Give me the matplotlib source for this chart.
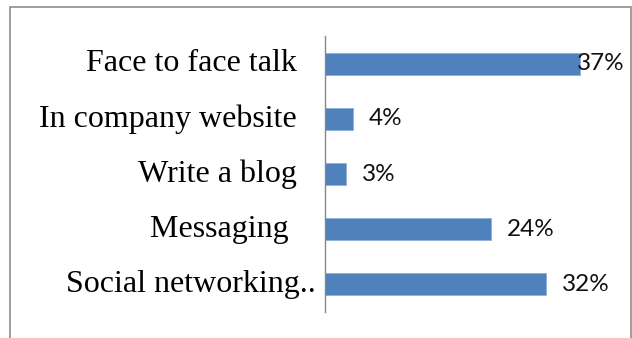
import matplotlib.pyplot as plt
from matplotlib.patches import Rectangle

# data
categories = ["Face to face talk", "In company website", "Write a blog", "Messaging ", "Social networking.."]
values = [37, 4, 3, 24, 32]
value_labels = ["37%", "4%", "3%", "24%", "32%"]

W, H = 632, 338
fig = plt.figure(figsize=(W / 100, H / 100), dpi=100)

# outer chart frame (bottom edge runs off the picture)
fig.patches.append(Rectangle((10 / W, -0.05), 620.5 / W, 1.05 - 7 / H,
                             transform=fig.transFigure, fill=False,
                             edgecolor='#8c8c8c', linewidth=1.2))

ax = fig.add_axes([325 / W, 1 - 312 / H, (W - 325) / W, 276 / H])
ypos = list(range(len(categories)))
ax.barh(ypos, values, height=0.4, color='#4f81bd', edgecolor='#8fb0d8', linewidth=0.6)

xmax = (W - 325) / 6.9
ax.set_xlim(0, xmax)
ax.set_ylim(len(categories) - 0.5, -0.5)

for s in ['top', 'right', 'bottom']:
    ax.spines[s].set_visible(False)
ax.spines['left'].set_color('#868686')
ax.spines['left'].set_linewidth(1.0)
ax.set_xticks([])
ax.set_yticks([])
ax.patch.set_visible(False)

# category labels (serif, right aligned left of the axis)
for i, cat in enumerate(categories):
    off = -28 if not cat.endswith('..') else -9
    ax.annotate(cat, xy=(0, i), xycoords=('axes fraction', 'data'),
                xytext=(off * 0.72, 0), textcoords='offset points',
                ha='right', va='center', fontsize=23, family='Liberation Serif',
                color='black')

# value labels
for i, (v, lab) in enumerate(zip(values, value_labels)):
    if v + 16 / 6.9 + 6.5 > xmax:
        ax.annotate(lab, xy=(v, i), xytext=(-3 * 0.72, 0), textcoords='offset points',
                    ha='left', va='center', fontsize=17.5, family='Lato', color='#111111')
    else:
        ax.annotate(lab, xy=(v, i), xytext=(16 * 0.72, 0), textcoords='offset points',
                    ha='left', va='center', fontsize=17.5, family='Lato', color='#111111')

fig.savefig('out.png', dpi=100)
